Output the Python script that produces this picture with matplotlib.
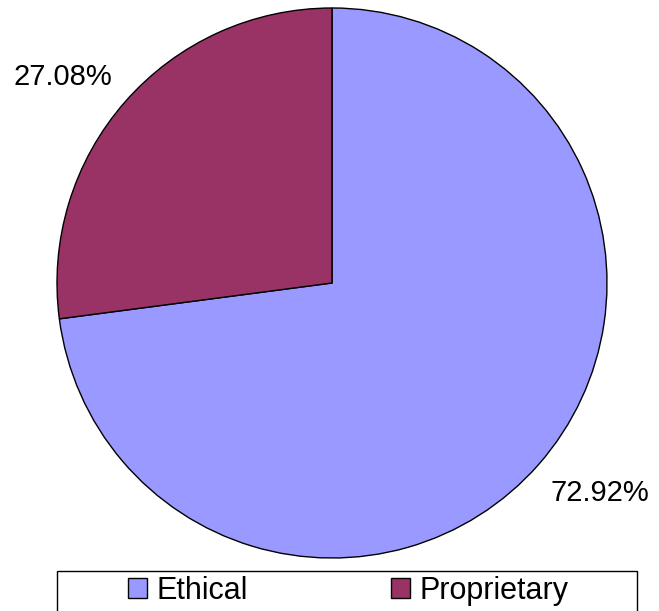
import matplotlib.pyplot as plt
from matplotlib.patches import Patch, Rectangle

# données
categories = ["Ethical", "Proprietary"]
pourcentages = [72.92, 27.08]
couleurs = ["#9999FF", "#993366"]

plt.rcParams['font.family'] = ['Liberation Sans', 'DejaVu Sans']

W, H = 659, 611
fig = plt.figure(figsize=(W / 100, H / 100), dpi=100)

# centre du camembert (332, 283) px, rayon 275 px
cx, cy, r = 332, 283, 275
ax = fig.add_axes([(cx - r) / W, (H - cy - r) / H, 2 * r / W, 2 * r / H])
ax.pie(pourcentages, colors=couleurs, startangle=90, counterclock=False,
       radius=1, wedgeprops=dict(edgecolor="black", linewidth=1))
ax.set_xlim(-1, 1)
ax.set_ylim(-1, 1)
ax.set_aspect("equal")
ax.axis("off")

# étiquettes de pourcentage
def px(x, y):
    return (x - cx) / r, (cy - y) / r

for val, (x, y) in zip(pourcentages, [(600, 493), (63, 77)]):
    tx, ty = px(x, y)
    ax.text(tx, ty, f"{val:.2f}%", ha="center", va="center",
            fontsize=21, clip_on=False)

# cadre de la légende (dépasse en bas de l'image)
fig.patches.append(Rectangle((57 / W, -10 / H), 580 / W, (611 - 571 + 10) / H,
                             transform=fig.transFigure, facecolor="white",
                             edgecolor="black", linewidth=1, zorder=5))

# légende
poignees = [Patch(facecolor=c, edgecolor="black", linewidth=1) for c in couleurs]
leg = fig.legend(poignees, categories, ncol=2, loc="center",
                 bbox_to_anchor=(348 / W, 1 - 591 / H),
                 fontsize=22, frameon=False,
                 handlelength=0.62, handleheight=0.62, handletextpad=0.3,
                 columnspacing=4.7, borderpad=0, borderaxespad=0)
leg.set_zorder(6)

fig.savefig("out.png", dpi=100)
